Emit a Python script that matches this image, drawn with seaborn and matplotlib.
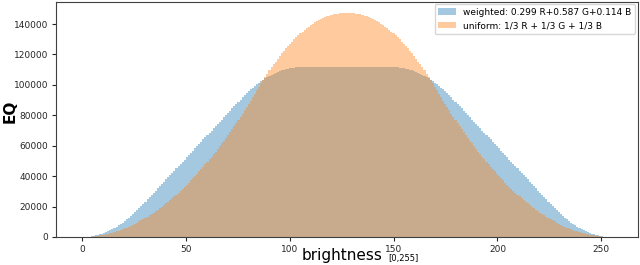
#!/usr/bin/env python3
import numpy as np
import pandas as pd
import matplotlib
matplotlib.use("Agg")
import matplotlib.pyplot as plt
import seaborn as sns

# histogram counts per brightness bin (256 bins over [0,255]), in thousands
weighted_k = [
    0.0, 0.1, 0.2, 0.3, 0.5, 0.8, 1.1, 1.4, 1.8, 2.3,
    2.8, 3.3, 3.9, 4.6, 5.3, 6.0, 6.8, 7.7, 8.6, 9.5,
    10.5, 11.6, 12.7, 13.8, 15.0, 16.3, 17.6, 18.9, 20.3, 21.8,
    23.2, 24.7, 26.1, 27.6, 29.0, 30.5, 32.0, 33.4, 34.9, 36.3,
    37.8, 39.3, 40.7, 42.2, 43.6, 45.1, 46.6, 48.0, 49.5, 50.9,
    52.4, 53.8, 55.3, 56.8, 58.2, 59.7, 61.1, 62.6, 64.1, 65.5,
    67.0, 68.4, 69.9, 71.4, 72.8, 74.3, 75.7, 77.2, 78.6, 80.1,
    81.6, 83.0, 84.5, 85.9, 87.4, 88.9, 90.3, 91.7, 93.1, 94.5,
    95.7, 97.0, 98.2, 99.3, 100.4, 101.4, 102.4, 103.3, 104.2, 105.1,
    105.9, 106.6, 107.3, 107.9, 108.5, 109.0, 109.5, 110.0, 110.3, 110.7,
    111.0, 111.2, 111.4, 111.5, 111.6, 111.6, 111.6, 111.6, 111.6, 111.6,
    111.6, 111.6, 111.6, 111.6, 111.6, 111.6, 111.6, 111.6, 111.6, 111.6,
    111.6, 111.6, 111.6, 111.6, 111.6, 111.6, 111.6, 111.6,
    111.6, 111.6, 111.6, 111.6, 111.6, 111.6, 111.6, 111.6, 111.6, 111.6,
    111.6, 111.6, 111.6, 111.6, 111.6, 111.6, 111.6, 111.6, 111.6, 111.6,
    111.6, 111.6, 111.6, 111.6, 111.5, 111.4, 111.2, 111.0,
    110.7, 110.3, 110.0, 109.5, 109.0, 108.5, 107.9, 107.3, 106.6, 105.9,
    105.1, 104.2, 103.3, 102.4, 101.4, 100.4, 99.3, 98.2, 97.0, 95.7,
    94.5, 93.1, 91.7, 90.3, 88.9, 87.4, 85.9, 84.5, 83.0, 81.6,
    80.1, 78.6, 77.2, 75.7, 74.3, 72.8, 71.4, 69.9, 68.4, 67.0,
    65.5, 64.1, 62.6, 61.1, 59.7, 58.2, 56.8, 55.3, 53.8, 52.4,
    50.9, 49.5, 48.0, 46.6, 45.1, 43.6, 42.2, 40.7, 39.3, 37.8,
    36.3, 34.9, 33.4, 32.0, 30.5, 29.0, 27.6, 26.1, 24.7, 23.2,
    21.8, 20.3, 18.9, 17.6, 16.3, 15.0, 13.8, 12.7, 11.6, 10.5,
    9.5, 8.6, 7.7, 6.8, 6.0, 5.3, 4.6, 3.9, 3.3, 2.8,
    2.3, 1.8, 1.4, 1.1, 0.8, 0.5, 0.3, 0.2, 0.1, 0.0,
]

uniform_k = [
    0.0, 0.0, 0.1, 0.2, 0.3, 0.4, 0.6, 0.8, 1.0, 1.2,
    1.5, 1.8, 2.1, 2.5, 2.8, 3.2, 3.7, 4.1, 4.6, 5.1,
    5.7, 6.2, 6.8, 7.5, 8.1, 8.8, 9.5, 10.2, 11.0, 11.7,
    12.6, 13.4, 14.3, 15.2, 16.1, 17.0, 18.0, 19.0, 20.0, 21.1,
    22.1, 23.3, 24.4, 25.5, 26.7, 27.9, 29.2, 30.5, 31.8, 33.1,
    34.4, 35.8, 37.2, 38.6, 40.1, 41.6, 43.1, 44.6, 46.2, 47.8,
    49.4, 51.1, 52.7, 54.4, 56.2, 57.9, 59.7, 61.5, 63.3, 65.2,
    67.1, 69.0, 71.0, 72.9, 74.9, 77.0, 79.0, 81.1, 83.2, 85.3,
    87.5, 89.7, 91.9, 94.1, 96.4, 98.7, 101.0, 103.2, 105.3, 107.4,
    109.5, 111.5, 113.4, 115.3, 117.2, 118.9, 120.7, 122.3, 124.0, 125.5,
    127.0, 128.5, 129.9, 131.3, 132.6, 133.8, 135.0, 136.1, 137.2, 138.2,
    139.2, 140.1, 141.0, 141.8, 142.5, 143.2, 143.9, 144.5, 145.0, 145.5,
    145.9, 146.3, 146.6, 146.9, 147.1, 147.3, 147.4, 147.5,
    147.5, 147.4, 147.3, 147.1, 146.9, 146.6, 146.3, 145.9,
    145.5, 145.0, 144.5, 143.9, 143.2, 142.5, 141.8, 141.0, 140.1, 139.2,
    138.2, 137.2, 136.1, 135.0, 133.8, 132.6, 131.3, 129.9, 128.5, 127.0,
    125.5, 124.0, 122.3, 120.7, 118.9, 117.2, 115.3, 113.4, 111.5, 109.5,
    107.4, 105.3, 103.2, 101.0, 98.7, 96.4, 94.1, 91.9, 89.7, 87.5,
    85.3, 83.2, 81.1, 79.0, 77.0, 74.9, 72.9, 71.0, 69.0, 67.1,
    65.2, 63.3, 61.5, 59.7, 57.9, 56.2, 54.4, 52.7, 51.1, 49.4,
    47.8, 46.2, 44.6, 43.1, 41.6, 40.1, 38.6, 37.2, 35.8, 34.4,
    33.1, 31.8, 30.5, 29.2, 27.9, 26.7, 25.5, 24.4, 23.3, 22.1,
    21.1, 20.0, 19.0, 18.0, 17.0, 16.1, 15.2, 14.3, 13.4, 12.6,
    11.7, 11.0, 10.2, 9.5, 8.8, 8.1, 7.5, 6.8, 6.2, 5.7,
    5.1, 4.6, 4.1, 3.7, 3.2, 2.8, 2.5, 2.1, 1.8, 1.5,
    1.2, 1.0, 0.8, 0.6, 0.4, 0.3, 0.2, 0.1, 0.0, 0.0,
]

labels = ["weighted: 0.299 R+0.587 G+0.114 B", "uniform: 1/3 R + 1/3 G + 1/3 B"]
colors = ["tab:blue", "tab:orange"]

assert len(weighted_k) == 256 and len(uniform_k) == 256

# bin layout: 256 bins spanning [0, 255]
edges = np.linspace(0, 255, 257)
centers = (edges[:-1] + edges[1:]) / 2

df = pd.DataFrame({
    "brightness": np.concatenate([centers, centers]),
    "count": np.concatenate([weighted_k, uniform_k]) * 1000,
    "kind": [labels[0]] * 256 + [labels[1]] * 256,
})

plt.rcParams["font.family"] = ["DejaVu Sans"]
fig = plt.figure(figsize=(6.4, 2.65), dpi=100)
ax = fig.add_axes([56 / 640, 1 - 237 / 265, 582 / 640, 235.5 / 265])

for lab, col in zip(labels, colors):
    sub = df[df["kind"] == lab]
    sns.histplot(data=sub, x="brightness", weights="count", bins=256,
                 binrange=(0, 255), color=col, alpha=0.4, linewidth=0,
                 label=lab, ax=ax)

ax.set_ylabel("")
ax.set_xlabel("")
ax.set_xlim(-12.75, 267.75)
ax.set_ylim(0, 154800)
ax.set_xticks([0, 50, 100, 150, 200, 250])
ax.set_yticks(np.arange(0, 140001, 20000))
ax.tick_params(labelsize=6.5, length=3, width=0.8, colors="0.15", pad=2.5)
ax.ticklabel_format(axis="y", style="plain")
for sp in ax.spines.values():
    sp.set_color("0.25")
    sp.set_linewidth(0.8)

leg = ax.legend(loc="upper right", fontsize=6.5, borderaxespad=0.3,
                handlelength=2.0, framealpha=0.8)

fig.text(10 / 640, 1 - 111 / 265, "EQ", rotation=90, ha="center", va="center",
         fontsize=11, fontweight="bold")
fig.text(342 / 640, 1 - 260 / 265, "brightness", ha="center", va="baseline",
         fontsize=11)
fig.text(388 / 640, 1 - 260.5 / 265, "[0,255]", ha="left", va="baseline",
         fontsize=6)

fig.savefig("out.png", dpi=100)
